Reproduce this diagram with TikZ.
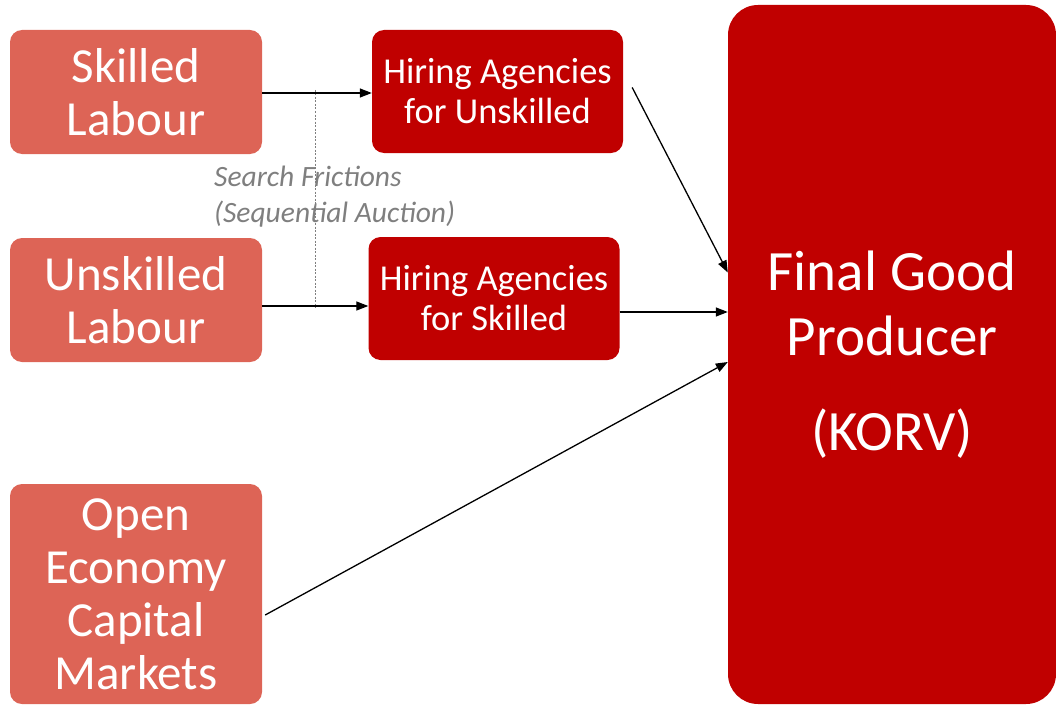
\documentclass[tikz,border=0pt]{standalone}
\usepackage{fontspec}
\setmainfont{Carlito}
\usetikzlibrary{arrows.meta}
\definecolor{lightred}{HTML}{DD6456}
\definecolor{darkred}{HTML}{C00000}
\definecolor{notegray}{HTML}{7F7F7F}
\tikzset{
  srcbox/.style={fill=lightred, draw=none, rounded corners=12pt, text=white, align=center,
    minimum width=252pt, inner sep=0pt, font=\fontsize{49}{53}\selectfont},
  agbox/.style={fill=darkred, draw=none, rounded corners=12pt, text=white, align=center,
    minimum width=251pt, minimum height=123pt, inner sep=0pt, font=\fontsize{36.5}{40}\selectfont},
  fgbox/.style={fill=darkred, draw=none, rounded corners=30pt, text=white, align=center,
    minimum width=328pt, minimum height=699pt, inner sep=0pt, font=\fontsize{57}{65}\selectfont},
  flow/.style={draw=black, line width=1.3pt, -{Triangle[length=12pt,width=9pt]}},
  friction/.style={draw=notegray, line width=0.6pt, dash pattern=on 2pt off 1.5pt}
}
\begin{document}
\begin{tikzpicture}[x=1pt,y=-1pt]
\useasboundingbox (0,0) rectangle (1056,706);
\node[srcbox, minimum height=124pt] (sl) at (136,92) {Skilled\\Labour};
\node[srcbox, minimum height=124pt] (ul) at (136,300) {Unskilled\\Labour};
\node[srcbox, minimum height=220pt] (oe) at (136,594) {Open\\Economy\\Capital\\Markets};
\node[agbox] (hu) at (497.5,91.5) {Hiring Agencies\\for Unskilled};
\node[agbox] (hs) at (494,298.5) {Hiring Agencies\\for Skilled};
\node[fgbox] (fg) at (892,354.5) {Final Good\\Producer\\[30pt](KORV)};
\node[anchor=north west, inner sep=0pt, align=left, text=notegray,
      font=\fontsize{29.5}{36}\selectfont\itshape] (sf) at (214,166)
      {Search Frictions\\(Sequential Auction)};
\coordinate (dtop) at (315,90);
\coordinate (dbot) at (315,308);
\draw[friction] (dtop) -- (dbot);
\draw[flow] ([yshift=-1pt]sl.east) -- ([yshift=-1pt]sl.east -| hu.west);
\draw[flow] ([yshift=-6pt]ul.east) -- ([yshift=-6pt]ul.east -| hs.west);
\draw[flow] ([xshift=9pt,yshift=4pt]hu.east) -- ([yshift=82pt]fg.west);
\draw[flow] ([yshift=-13.5pt]hs.east) -- ([yshift=-13.5pt]hs.east -| fg.west);
\draw[flow] ([xshift=3pt,yshift=-21pt]oe.east) -- ([yshift=-7.5pt]fg.west);
\end{tikzpicture}
\end{document}
